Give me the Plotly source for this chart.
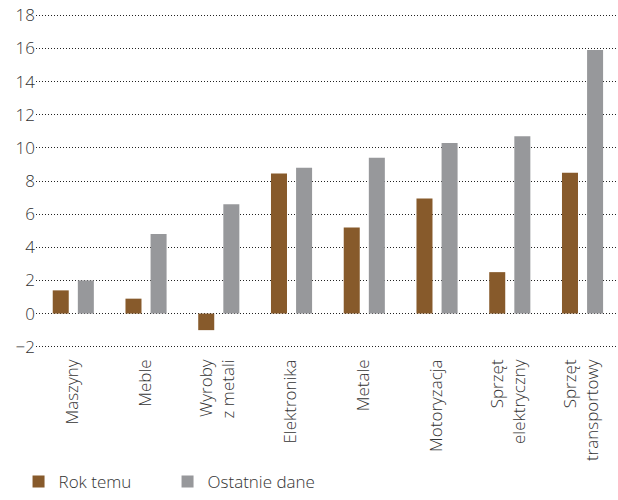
import plotly.graph_objects as go

categories = ["Maszyny", "Meble", "Wyroby<br>z metali", "Elektronika", "Metale",
              "Motoryzacja", "Sprzęt<br>elektryczny", "Sprzęt<br>transportowy"]
rok_temu = [1.4, 0.9, -1.0, 8.45, 5.2, 6.95, 2.5, 8.5]
ostatnie_dane = [2.0, 4.8, 6.6, 8.8, 9.4, 10.3, 10.7, 15.9]
tick_vals = [-2, 0, 2, 4, 6, 8, 10, 12, 14, 16, 18]

BROWN = "#875a2b"
GRAY = "#97989b"
FONT = "Open Sans"
TXT = "#333333"

fig = go.Figure()
fig.add_trace(go.Bar(x=categories, y=rok_temu, name="Rok temu",
                     marker=dict(color=BROWN, line=dict(width=0)),
                     width=0.22, offset=-0.27))
fig.add_trace(go.Bar(x=categories, y=ostatnie_dane, name="Ostatnie dane",
                     marker=dict(color=GRAY, line=dict(width=0)),
                     width=0.22, offset=0.075))

fig.update_layout(
    width=618, height=500,
    margin=dict(l=36, r=0, t=7, b=145),
    plot_bgcolor="white", paper_bgcolor="white",
    barmode="overlay",
    font=dict(family=FONT, color=TXT, size=17, weight=300),
    showlegend=True,
    legend=dict(orientation="h", xref="container", yref="container",
                x=0.03, y=0.0, xanchor="left", yanchor="bottom",
                font=dict(size=17, color=TXT, weight=300), itemwidth=30,
                tracegroupgap=0, entrywidth=104),
    xaxis=dict(tickangle=-90, showgrid=False, showline=False, ticks="",
               tickfont=dict(size=17, color=TXT, weight=300), range=[-0.5, 7.5]),
    yaxis=dict(range=[-2.5, 18.5], tickvals=tick_vals, showgrid=True,
               gridcolor="#222222", griddash="1px,2px", gridwidth=1,
               zeroline=False, showline=False, ticks="",
               tickfont=dict(size=17, color=TXT, weight=300)),
)

fig.write_html("out.html")
